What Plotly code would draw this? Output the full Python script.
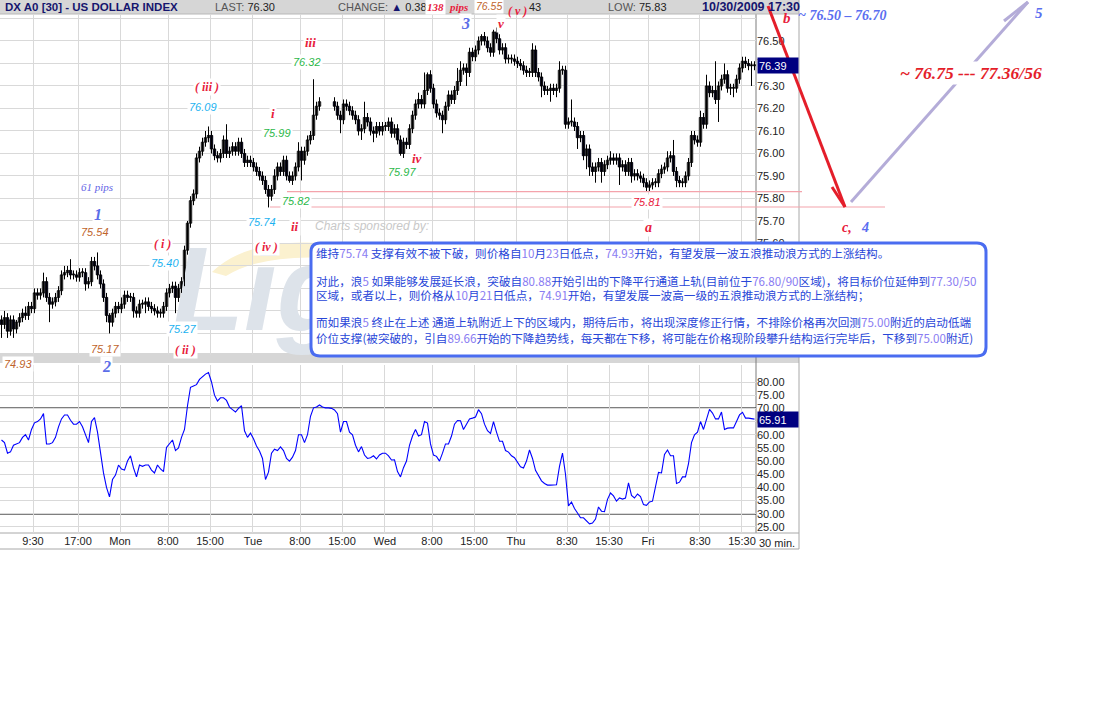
import plotly.graph_objects as go

W, H = 1106, 717

# ---------------- data ----------------
first_open = 75.26
closes = [
    75.24, 75.27, 75.21, 75.26, 75.22, 75.25, 75.27, 75.29, 75.28, 75.32,
    75.31, 75.38, 75.37, 75.38, 75.43, 75.36, 75.33, 75.34, 75.36, 75.39,
    75.46, 75.47, 75.48, 75.46, 75.46, 75.45, 75.47, 75.47, 75.42, 75.43,
    75.52, 75.50, 75.46, 75.42, 75.36, 75.28, 75.25, 75.29, 75.32, 75.31,
    75.33, 75.37, 75.36, 75.36, 75.30, 75.29, 75.33, 75.33, 75.34, 75.32,
    75.31, 75.30, 75.29, 75.29, 75.32, 75.38, 75.40, 75.41, 75.36, 75.40,
    75.43, 75.57, 75.69, 75.79, 75.82, 75.98, 76.01, 76.05, 76.07, 76.08,
    76.02, 75.99, 75.98, 76.00, 76.06, 76.00, 76.01, 76.03, 76.01, 76.05,
    76.00, 75.96, 75.97, 75.96, 75.94, 75.92, 75.90, 75.88, 75.84, 75.81,
    75.84, 75.90, 75.94, 75.92, 75.97, 75.90, 75.88, 75.90, 75.94, 76.01,
    75.97, 76.01, 76.06, 76.08, 76.17, 76.21, 76.23, None, None, None,
    None, 76.21, 76.17, 76.15, 76.22, 76.21, 76.19, 76.17, 76.15, 76.10,
    76.11, 76.16, 76.14, 76.10, 76.09, 76.12, 76.10, 76.12, 76.12, 76.14,
    76.09, 76.11, 76.06, 76.00, 76.05, 76.04, 76.11, 76.17, 76.22, 76.24,
    76.22, 76.28, 76.35, 76.29, 76.22, 76.18, 76.17, 76.15, 76.21, 76.26,
    76.24, 76.28, 76.32, 76.37, 76.38, 76.36, 76.45, 76.43, 76.46, 76.50,
    76.52, 76.50, 76.47, 76.45, 76.54, 76.51, 76.46, 76.47, 76.42, 76.42,
    76.42, 76.41, 76.40, 76.39, 76.37, 76.36, 76.36, 76.46, 76.36, 76.34,
    76.30, 76.28, 76.28, 76.29, 76.28, 76.29, 76.37, 76.37, 76.13, 76.14,
    76.14, 76.12, 76.07, 76.08, 75.99, 76.02, 75.94, 75.92, 75.94, 75.96,
    75.92, 75.95, 75.97, 75.98, 75.97, 75.98, 75.94, 75.95, 75.92, 75.96,
    75.90, 75.91, 75.90, 75.89, 75.87, 75.85, 75.86, 75.87, 75.87, 75.91,
    75.93, 75.94, 75.98, 75.99, 75.92, 75.88, 75.87, 75.87, 75.90, 75.96,
    76.08, 76.06, 76.05, 76.16, 76.13, 76.30, 76.27, 76.28, 76.24, 76.30,
    76.33, 76.35, 76.29, 76.29, 76.29, 76.33, 76.38, 76.41, 76.40, 76.39,
    76.39, 76.39,
]
# wick lengths in pips (0.01)
upper_wick = [
    2, 3, 2, 2, 2, 1, 2, 2, 3, 2,
    2, 2, 2, 2, 4, 2, 2, 2, 2, 2,
    2, 3, 2, 5, 2, 2, 2, 2, 2, 2,
    2, 2, 6, 2, 2, 2, 1, 2, 2, 2,
    3, 2, 2, 2, 2, 2, 2, 2, 2, 2,
    2, 2, 2, 2, 2, 2, 2, 2, 2, 2,
    2, 2, 1, 2, 2, 2, 2, 2, 3, 4,
    2, 2, 2, 2, 2, 7, 2, 2, 2, 2,
    2, 2, 2, 2, 2, 2, 2, 2, 2, 2,
    2, 3, 2, 2, 2, 2, 2, 2, 2, 4,
    2, 2, 2, 2, 16, 2, 2, 0, 0, 0,
    0, 2, 2, 2, 2, 2, 2, 2, 2, 2,
    2, 7, 2, 2, 2, 2, 2, 2, 2, 2,
    2, 2, 2, 2, 2, 2, 2, 2, 2, 3,
    2, 8, 1, 2, 2, 2, 2, 2, 2, 2,
    2, 2, 6, 4, 2, 2, 2, 2, 2, 2,
    1, 2, 2, 2, 1, 2, 2, 2, 2, 2,
    2, 2, 2, 2, 2, 2, 2, 3, 2, 2,
    2, 2, 2, 2, 2, 2, 4, 2, 2, 2,
    10, 2, 2, 2, 2, 2, 2, 2, 2, 2,
    2, 2, 2, 3, 2, 2, 2, 2, 2, 2,
    2, 2, 2, 2, 2, 2, 2, 2, 2, 2,
    2, 2, 3, 2, 7, 2, 2, 2, 2, 2,
    2, 2, 2, 3, 2, 5, 2, 2, 13, 2,
    2, 5, 2, 2, 2, 2, 2, 2, 2, 2,
    2, 2,
]
lower_wick = [
    6, 2, 3, 2, 4, 2, 2, 2, 2, 2,
    2, 2, 2, 2, 2, 2, 8, 2, 2, 2,
    2, 2, 2, 2, 2, 2, 2, 2, 3, 2,
    2, 2, 2, 2, 2, 3, 5, 2, 2, 2,
    2, 2, 2, 2, 3, 2, 2, 2, 4, 2,
    2, 2, 2, 2, 2, 2, 2, 2, 7, 2,
    2, 2, 2, 2, 2, 2, 2, 2, 2, 2,
    2, 2, 2, 2, 2, 2, 2, 2, 2, 2,
    2, 2, 2, 2, 2, 2, 2, 2, 2, 5,
    2, 2, 2, 2, 2, 2, 1, 2, 2, 2,
    9, 2, 2, 2, 2, 2, 2, 0, 0, 0,
    0, 2, 2, 6, 2, 2, 2, 2, 2, 2,
    4, 2, 2, 2, 4, 2, 2, 2, 2, 2,
    2, 2, 2, 1, 2, 2, 2, 2, 2, 2,
    2, 2, 2, 2, 2, 2, 2, 6, 2, 2,
    2, 2, 2, 2, 2, 6, 2, 2, 2, 2,
    2, 2, 2, 2, 2, 2, 2, 2, 2, 2,
    2, 2, 2, 2, 2, 2, 2, 2, 2, 2,
    5, 2, 2, 5, 2, 3, 2, 2, 2, 2,
    2, 2, 5, 2, 2, 6, 4, 2, 5, 2,
    5, 2, 2, 2, 2, 2, 8, 2, 2, 2,
    3, 2, 2, 2, 2, 2, 2, 2, 2, 2,
    2, 2, 2, 2, 2, 3, 2, 2, 2, 2,
    2, 2, 2, 2, 2, 2, 2, 2, 2, 10,
    2, 2, 2, 3, 4, 2, 2, 2, 2, 2,
    9, 2,
]
rsi = [
    58, 57, 53, 53.5, 56, 56.5, 57, 59, 60, 58,
    62, 64.5, 65, 66, 68, 56.5, 56.5, 57, 59, 63,
    66, 67.5, 67.5, 65.5, 64, 64, 65, 63, 60, 57,
    65, 66.5, 61, 53, 45.5, 40, 36.4, 43, 44.7, 48.5,
    47, 46.6, 50, 52, 47.4, 44, 48.5, 48, 48.5, 48.5,
    46.6, 45.5, 48.5, 47, 46, 55.2, 56.5, 58, 54, 55,
    59, 62, 71, 78, 78.5, 79, 81, 82, 83, 83.6,
    80, 75, 72.8, 74, 74, 73, 70.5, 69.5, 68.6, 70,
    71, 61.5, 59, 60.6, 58.5, 55.7, 53.8, 51, 43, 45.8,
    53, 54.5, 54, 55.4, 54, 51, 50, 51.5, 54, 60,
    60, 57, 60, 67, 70.2, 70.5, 71.3, 70.5, 70.2, 70.2,
    70, 69.4, 68, 61, 65, 65, 61, 60, 56, 53.5,
    55.5, 52.3, 51, 51.3, 52, 50.8, 52.3, 53, 53, 52,
    50.4, 50.5, 46, 44, 47.5, 50, 56, 59.5, 62, 59.5,
    60, 65, 64.4, 56.5, 52.3, 51.8, 50, 53, 56.5, 56.5,
    59.5, 64, 65.4, 65.3, 62, 64, 66, 66.3, 66.7, 69.5,
    68, 64, 61.5, 60.5, 65, 61, 57.5, 57.5, 54, 53.4,
    52, 51.3, 49.7, 47.8, 47.4, 50, 54.2, 51, 46.5, 44.5,
    42.5, 41.5, 40.9, 40.9, 40.9, 41, 48, 53, 45, 33,
    34.5, 32, 30.3, 28.5, 28.5, 27.5, 26.2, 26.5, 28, 32.6,
    31, 30.8, 35.5, 37.9, 36.8, 34.8, 36, 35.6, 36, 41.7,
    37, 36, 37.5, 36.5, 33.5, 33.2, 34.5, 34.8, 39.8, 45.7,
    45.5, 52.5, 54.2, 52, 52, 41.5, 42, 44, 44, 49,
    57, 60, 61, 65, 62, 65.5, 69.6, 68.2, 66, 66,
    68.6, 62, 62.5, 62.6, 62.6, 65, 67.5, 68.5, 66.3, 66.3,
    66.2, 65.91,
]
time_tick_pos = [10.5, 25.5, 39.5, 55.5, 69.5, 83.83, 99.5, 113.5, 127.83,
                 143.5, 157.5, 171.5, 188.5, 202.5, 215.5, 232.83, 246.83]
time_tick_text = ['9:30', '17:00', 'Mon', '8:00', '15:00', 'Tue', '8:00', '15:00', 'Wed',
                  '8:00', '15:00', 'Thu', '8:30', '15:30', 'Fri', '8:30', '15:30']
price_ticks = [75.2, 75.3, 75.4, 75.5, 75.6, 75.7, 75.8, 75.9, 76.0, 76.1, 76.2, 76.3, 76.4, 76.5, 76.6]
rsi_ticks = [25, 30, 35, 40, 45, 50, 55, 60, 65, 70, 75, 80]
rsi_levels = [70, 30]
support_levels = [75.83, 75.762]
last_price = 76.39
last_rsi = 65.91

# -------------- geometry helpers --------------
P_TOP, P_BOT = 14, 355
R_TOP, R_BOT = 365, 533
X_RIGHT = 756
price_range = [75.104, 76.62]
rsi_range = [22.72, 86.45]
x_range = [-0.5, X_RIGHT / 3 - 0.5]


def fx(px):
    return px / W


def fy(py):
    return 1 - py / H


def price_py(p):
    return P_TOP + (price_range[1] - p) / (price_range[1] - price_range[0]) * (P_BOT - P_TOP)


def rsi_py(v):
    return R_TOP + (rsi_range[1] - v) / (rsi_range[1] - rsi_range[0]) * (R_BOT - R_TOP)


def idx_of_px(px):
    return x_range[0] + px / X_RIGHT * (x_range[1] - x_range[0])


def price_of_py(py):
    return price_range[1] - (py - P_TOP) / (P_BOT - P_TOP) * (price_range[1] - price_range[0])


def rsi_of_py(py):
    return rsi_range[1] - (py - R_TOP) / (R_BOT - R_TOP) * (rsi_range[1] - rsi_range[0])


# -------------- build OHLC --------------
idx = list(range(len(closes)))
opens, highs, lows = [], [], []
prev = first_open
for c, u, l in zip(closes, upper_wick, lower_wick):
    if c is None:
        opens.append(None); highs.append(None); lows.append(None)
        continue
    o = prev
    opens.append(o)
    highs.append(round(max(o, c) + u / 100, 3))
    lows.append(round(min(o, c) - l / 100, 3))
    prev = c

# candle pieces: wicks (one polyline with gaps) and bodies (bars)
wick_x, wick_y = [], []
body_x, body_base, body_len, body_col = [], [], [], []
for i, o, h, l, c in zip(idx, opens, highs, lows, closes):
    if c is None:
        continue
    wick_x += [i, i, None]
    wick_y += [l, h, None]
    body_x.append(i)
    body_base.append(min(o, c))
    body_len.append(max(abs(c - o), 0.004))
    body_col.append('white' if c >= o else '#000080')

fig = go.Figure()

# watermark (under candles)
fig.add_trace(go.Scatter(
    x=[idx_of_px(172)], y=[price_of_py(300)], mode='text',
    text=['<b><i>Lightspeed</i></b>'], textposition='middle right',
    textfont=dict(family='Liberation Sans Narrow, Liberation Sans', size=118, color='#dde3ea'),
    cliponaxis=False, hoverinfo='skip', xaxis='x', yaxis='y'))

fig.add_trace(go.Scatter(
    x=wick_x, y=wick_y, mode='lines', line=dict(color='black', width=1),
    connectgaps=False, hoverinfo='skip', xaxis='x', yaxis='y'))
fig.add_trace(go.Bar(
    x=body_x, y=body_len, base=body_base, width=0.8,
    marker=dict(color=body_col, line=dict(color='black', width=1)),
    hoverinfo='skip', xaxis='x', yaxis='y'))

fig.add_trace(go.Scatter(
    x=idx, y=rsi, mode='lines', line=dict(color='#0000ff', width=1.1),
    xaxis='x2', yaxis='y2', hoverinfo='skip'))

# RSI title (partly hidden by the comment box)
fig.add_trace(go.Scatter(
    x=[idx_of_px(344)], y=[rsi_of_py(360)], mode='text',
    text=['RSI(DX A0,14) = 65.91'], textposition='middle right',
    textfont=dict(family='Liberation Sans', size=11, color='#1a2fe0'),
    cliponaxis=False, hoverinfo='skip', xaxis='x2', yaxis='y2'))

grid = '#d9d9d9'
tickfont = dict(family='Liberation Sans, Arial', size=11, color='#222222')
fig.update_layout(
    width=W, height=H, margin=dict(l=0, r=0, t=0, b=0),
    paper_bgcolor='white', plot_bgcolor='white', showlegend=False,
    xaxis=dict(domain=[0, fx(X_RIGHT)], range=x_range, tickvals=time_tick_pos,
               showticklabels=False, showgrid=True, gridcolor=grid, gridwidth=1,
               zeroline=False, showline=False, ticks='', anchor='y'),
    yaxis=dict(domain=[fy(P_BOT), fy(P_TOP)], range=price_range, side='right', anchor='x',
               tickvals=price_ticks,
               ticktext=[f'{v:.2f}' if v < 76.55 else '' for v in price_ticks],
               showgrid=True, gridcolor=grid, gridwidth=1, zeroline=False, ticks='',
               tickfont=tickfont, showline=False),
    xaxis2=dict(domain=[0, fx(X_RIGHT)], range=x_range, tickvals=time_tick_pos,
                ticktext=time_tick_text, showgrid=True, gridcolor=grid, gridwidth=1,
                zeroline=False, ticks='', tickfont=tickfont, anchor='y2', showline=False),
    yaxis2=dict(domain=[fy(R_BOT), fy(R_TOP)], range=rsi_range, side='right', anchor='x2',
                tickvals=rsi_ticks, ticktext=[f'{v:.2f}' for v in rsi_ticks],
                showgrid=True, gridcolor=grid, gridwidth=1, zeroline=False, ticks='',
                tickfont=tickfont, showline=False),
)

shapes = []


def rect(x0, y0, x1, y1, fill, layer='below', line_color=None, lw=0):
    shapes.append(dict(type='rect', xref='paper', yref='paper', x0=fx(x0), x1=fx(x1),
                       y0=fy(y1), y1=fy(y0), fillcolor=fill, layer=layer,
                       line=dict(color=line_color or fill, width=lw)))


def seg(x0, y0, x1, y1, color, width=1, layer='above'):
    shapes.append(dict(type='line', xref='paper', yref='paper', x0=fx(x0), y0=fy(y0),
                       x1=fx(x1), y1=fy(y1), layer=layer, line=dict(color=color, width=width)))


def pxpath(cmds, fill, line_color, lw, layer):
    s = ''
    for p in cmds:
        cs = [f'{fx(p[k]):.5f},{fy(p[k + 1]):.5f}' for k in range(1, len(p), 2)]
        s += p[0] + ' ' + ' '.join(cs) + ' '
    s += 'Z'
    shapes.append(dict(type='path', path=s, xref='paper', yref='paper', fillcolor=fill,
                       line=dict(color=line_color, width=lw), layer=layer))


# header and separator bands
rect(0, 0, 799, 14, '#d6d6d6')
rect(0, 353, 799, 363, '#d6d6d6')
# pale yellow swoosh of the sponsor logo
pxpath([('M', 212, 272), ('Q', 250, 236, 330, 244), ('L', 330, 258), ('Q', 262, 254, 226, 276)],
       '#fbf1cf', '#fbf1cf', 0, 'below')
# frame lines
seg(X_RIGHT, P_TOP, X_RIGHT, R_BOT, '#7c7c7c', 1, 'below')
seg(0, R_BOT, 799, R_BOT, '#a8a8a8', 1, 'below')
seg(799, 0, 799, 549, '#a8a8a8', 1, 'below')
seg(0, 549, 799, 549, '#a8a8a8', 1, 'below')
seg(0, 14, 799, 14, '#b8b8b8', 1, 'below')
# RSI levels
for lv in rsi_levels:
    seg(0, rsi_py(lv), X_RIGHT, rsi_py(lv), 'black', 1.5, 'below')
# support lines
seg(287, price_py(support_levels[0]), 802, price_py(support_levels[0]), '#f4a3ab', 1.2)
seg(270, price_py(support_levels[1]), 885, price_py(support_levels[1]), '#f4a3ab', 1.2)

# comment box (rounded)
bx0, by0, bx1, by1, r = 311, 243, 986, 356, 9
pxpath([('M', bx0 + r, by0), ('L', bx1 - r, by0), ('Q', bx1, by0, bx1, by0 + r),
        ('L', bx1, by1 - r), ('Q', bx1, by1, bx1 - r, by1), ('L', bx0 + r, by1),
        ('Q', bx0, by1, bx0, by1 - r), ('L', bx0, by0 + r), ('Q', bx0, by0, bx0 + r, by0)],
       'white', '#4a6cf0', 3, 'above')

# arrows
seg(768, 6, 845, 207, '#e41e2a', 3)
seg(845, 207, 832, 187, '#e41e2a', 3)
seg(851, 202, 1028, 2, '#b4acd8', 3)
seg(1028, 2, 1004, 21, '#b4acd8', 3)

fig.update_layout(shapes=shapes)

annotations = []


def ann(text, x, y, color, size=11, serif=False, bold=False, italic=True, bg=None,
        xanchor='center', family=None):
    t = text
    if bold:
        t = f'<b>{t}</b>'
    if italic:
        t = f'<i>{t}</i>'
    fam = family or ('Liberation Serif' if serif else 'Liberation Sans')
    d = dict(text=t, x=fx(x), y=fy(y), xref='paper', yref='paper', showarrow=False,
             xanchor=xanchor, yanchor='middle', font=dict(family=fam, size=size, color=color),
             borderpad=1)
    if bg:
        d['bgcolor'] = bg
    annotations.append(d)


RED = '#e8203c'
BLUE = '#5b6ee8'
BROWN = '#c0642c'
CYAN = '#1cb2f0'
GREEN = '#2db84a'
WH = 'white'

# header
ann('DX A0 [30] - US DOLLAR INDEX', 3, 7, '#15156e', 11.5, bold=True, italic=False, xanchor='left')
ann('<span style="color:#555">LAST:</span> 76.30', 213, 7, '#222', 11, italic=False, xanchor='left')
ann('<span style="color:#555">CHANGE:</span> <span style="color:#14146e">▲</span> 0.38', 336, 7,
    '#222', 11, italic=False, xanchor='left')
ann('43', 527, 7, '#222', 11, italic=False, xanchor='left')
ann('<span style="color:#555">LOW:</span> 75.83', 606, 7, '#222', 11, italic=False, xanchor='left')
ann('10/30/2009 17:30', 700, 7, '#15156e', 12.5, bold=True, italic=False, xanchor='left')
ann('138', 435, 7, RED, 11, serif=True, bold=True, bg=WH)
ann('pips', 458, 7, RED, 11, serif=True, bold=True)
ann('76.55', 489, 6, BROWN, 10.5, bg=WH)
ann('( v )', 517, 11, RED, 12, serif=True, bold=True)

# wave labels
ann('61 pips', 97, 187, '#6464e6', 11, serif=True, bg=WH)
ann('1', 98, 214, BLUE, 16, serif=True, bold=True, bg=WH)
ann('75.54', 95, 232, BROWN, 11, bg=WH)
ann('( i )', 162, 244, RED, 12, serif=True, bold=True, bg=WH)
ann('75.40', 165, 263, CYAN, 11, bg=WH)
ann('75.27', 182, 329, CYAN, 11, bg=WH)
ann('( ii )', 185, 350, RED, 12, serif=True, bold=True, bg=WH)
ann('75.17', 105, 349, BROWN, 11, bg=WH)
ann('2', 106, 367, BLUE, 16, serif=True, bold=True, bg=WH)
ann('74.93', 18, 364, BROWN, 11, bg=WH)
ann('( iii )', 207, 87, RED, 12, serif=True, bold=True, bg=WH)
ann('76.09', 203, 107, CYAN, 11, bg=WH)
ann('i', 273, 113, RED, 13, serif=True, bold=True, bg=WH)
ann('75.99', 277, 133, GREEN, 11, bg=WH)
ann('iii', 310, 42, RED, 13, serif=True, bold=True, bg=WH)
ann('76.32', 307, 62, GREEN, 11, bg=WH)
ann('75.74', 262, 222, CYAN, 11, bg=WH)
ann('ii', 295, 226, RED, 13, serif=True, bold=True, bg=WH)
ann('75.82', 296, 201, GREEN, 11, bg=WH)
ann('( iv )', 266, 247, RED, 12, serif=True, bold=True, bg=WH)
ann('iv', 417, 158, RED, 13, serif=True, bold=True, bg=WH)
ann('75.97', 402, 172, GREEN, 11, bg=WH)
ann('3', 465, 23, BLUE, 16, serif=True, bold=True, bg=WH)
ann('v', 501, 23, RED, 13, serif=True, bold=True, bg=WH)
ann('75.81', 647, 202, RED, 11, bg=WH)
ann('a', 648, 228, RED, 14, serif=True, bold=True, bg=WH)
ann('Charts sponsored by:', 313, 226, '#c8c8c8', 12, xanchor='left')

# right-side projections
ann('b', 787, 18, RED, 15, serif=True, bold=True)
ann('~ 76.50 – 76.70', 842, 16, '#5a6ef0', 14, serif=True, bold=True)
ann('5', 1039, 13, '#5a6ef0', 15, serif=True, bold=True)
ann('~ 76.75 --- 77.36/56', 971, 73, '#e41e2a', 17.5, serif=True, bold=True, bg=WH)
ann('c,', 847, 227, RED, 14, serif=True, bold=True)
ann('4', 865, 227, '#5a6ef0', 14, serif=True, bold=True)

# last value boxes
annotations.append(dict(text=f'{last_price:.2f}', x=fx(757), y=last_price, xref='paper', yref='y',
                        showarrow=False, xanchor='left', yanchor='middle', width=38, height=13,
                        align='left', bgcolor='#000080', borderpad=1,
                        font=dict(family='Liberation Sans', size=11, color='white')))
annotations.append(dict(text=f'{last_rsi:.2f}', x=fx(757), y=last_rsi, xref='paper', yref='y2',
                        showarrow=False, xanchor='left', yanchor='middle', width=38, height=13,
                        align='left', bgcolor='#000080', borderpad=1,
                        font=dict(family='Liberation Sans', size=11, color='white')))
ann('30 min.', 777, 543, '#222', 11, italic=False)

# comment text
NUM = '#8a7cf2'
TXT = '#2846d8'


def n(s):
    return f'<span style="color:{NUM}">{s}</span>'


comment_lines = [
    (253, f'维持{n("75.74")} 支撑有效不被下破，则价格自{n("10")}月{n("23")}日低点，{n("74.93")}开始，有望发展一波五浪推动浪方式的上涨结构。'),
    (281, f'对此，浪{n("5")} 如果能够发展延长浪，突破自{n("80.88")}开始引出的下降平行通道上轨(目前位于{n("76.80/90")}区域)，将目标价位延伸到{n("77.30/50")}'),
    (295, f'区域，或者以上，则价格从{n("10")}月{n("21")}日低点，{n("74.91")}开始，有望发展一波高一级的五浪推动浪方式的上涨结构；'),
    (322, f'而如果浪{n("5")} 终止在上述 通道上轨附近上下的区域内，期待后市，将出现深度修正行情，不排除价格再次回测{n("75.00")}附近的启动低端'),
    (338, f'价位支撑(被突破的，引自{n("89.66")}开始的下降趋势线，每天都在下移，将可能在价格现阶段攀升结构运行完毕后，下移到{n("75.00")}附近)'),
]
for yy, txt in comment_lines:
    annotations.append(dict(text=txt, x=fx(314), y=fy(yy), xref='paper', yref='paper',
                            showarrow=False, xanchor='left', yanchor='middle',
                            font=dict(family='Noto Sans CJK SC', size=11.6, color=TXT)))

fig.update_layout(annotations=annotations)
fig.write_html('out.html', config={'displayModeBar': False},
               post_script="document.body.style.margin='0px';document.body.style.overflow='hidden';")
